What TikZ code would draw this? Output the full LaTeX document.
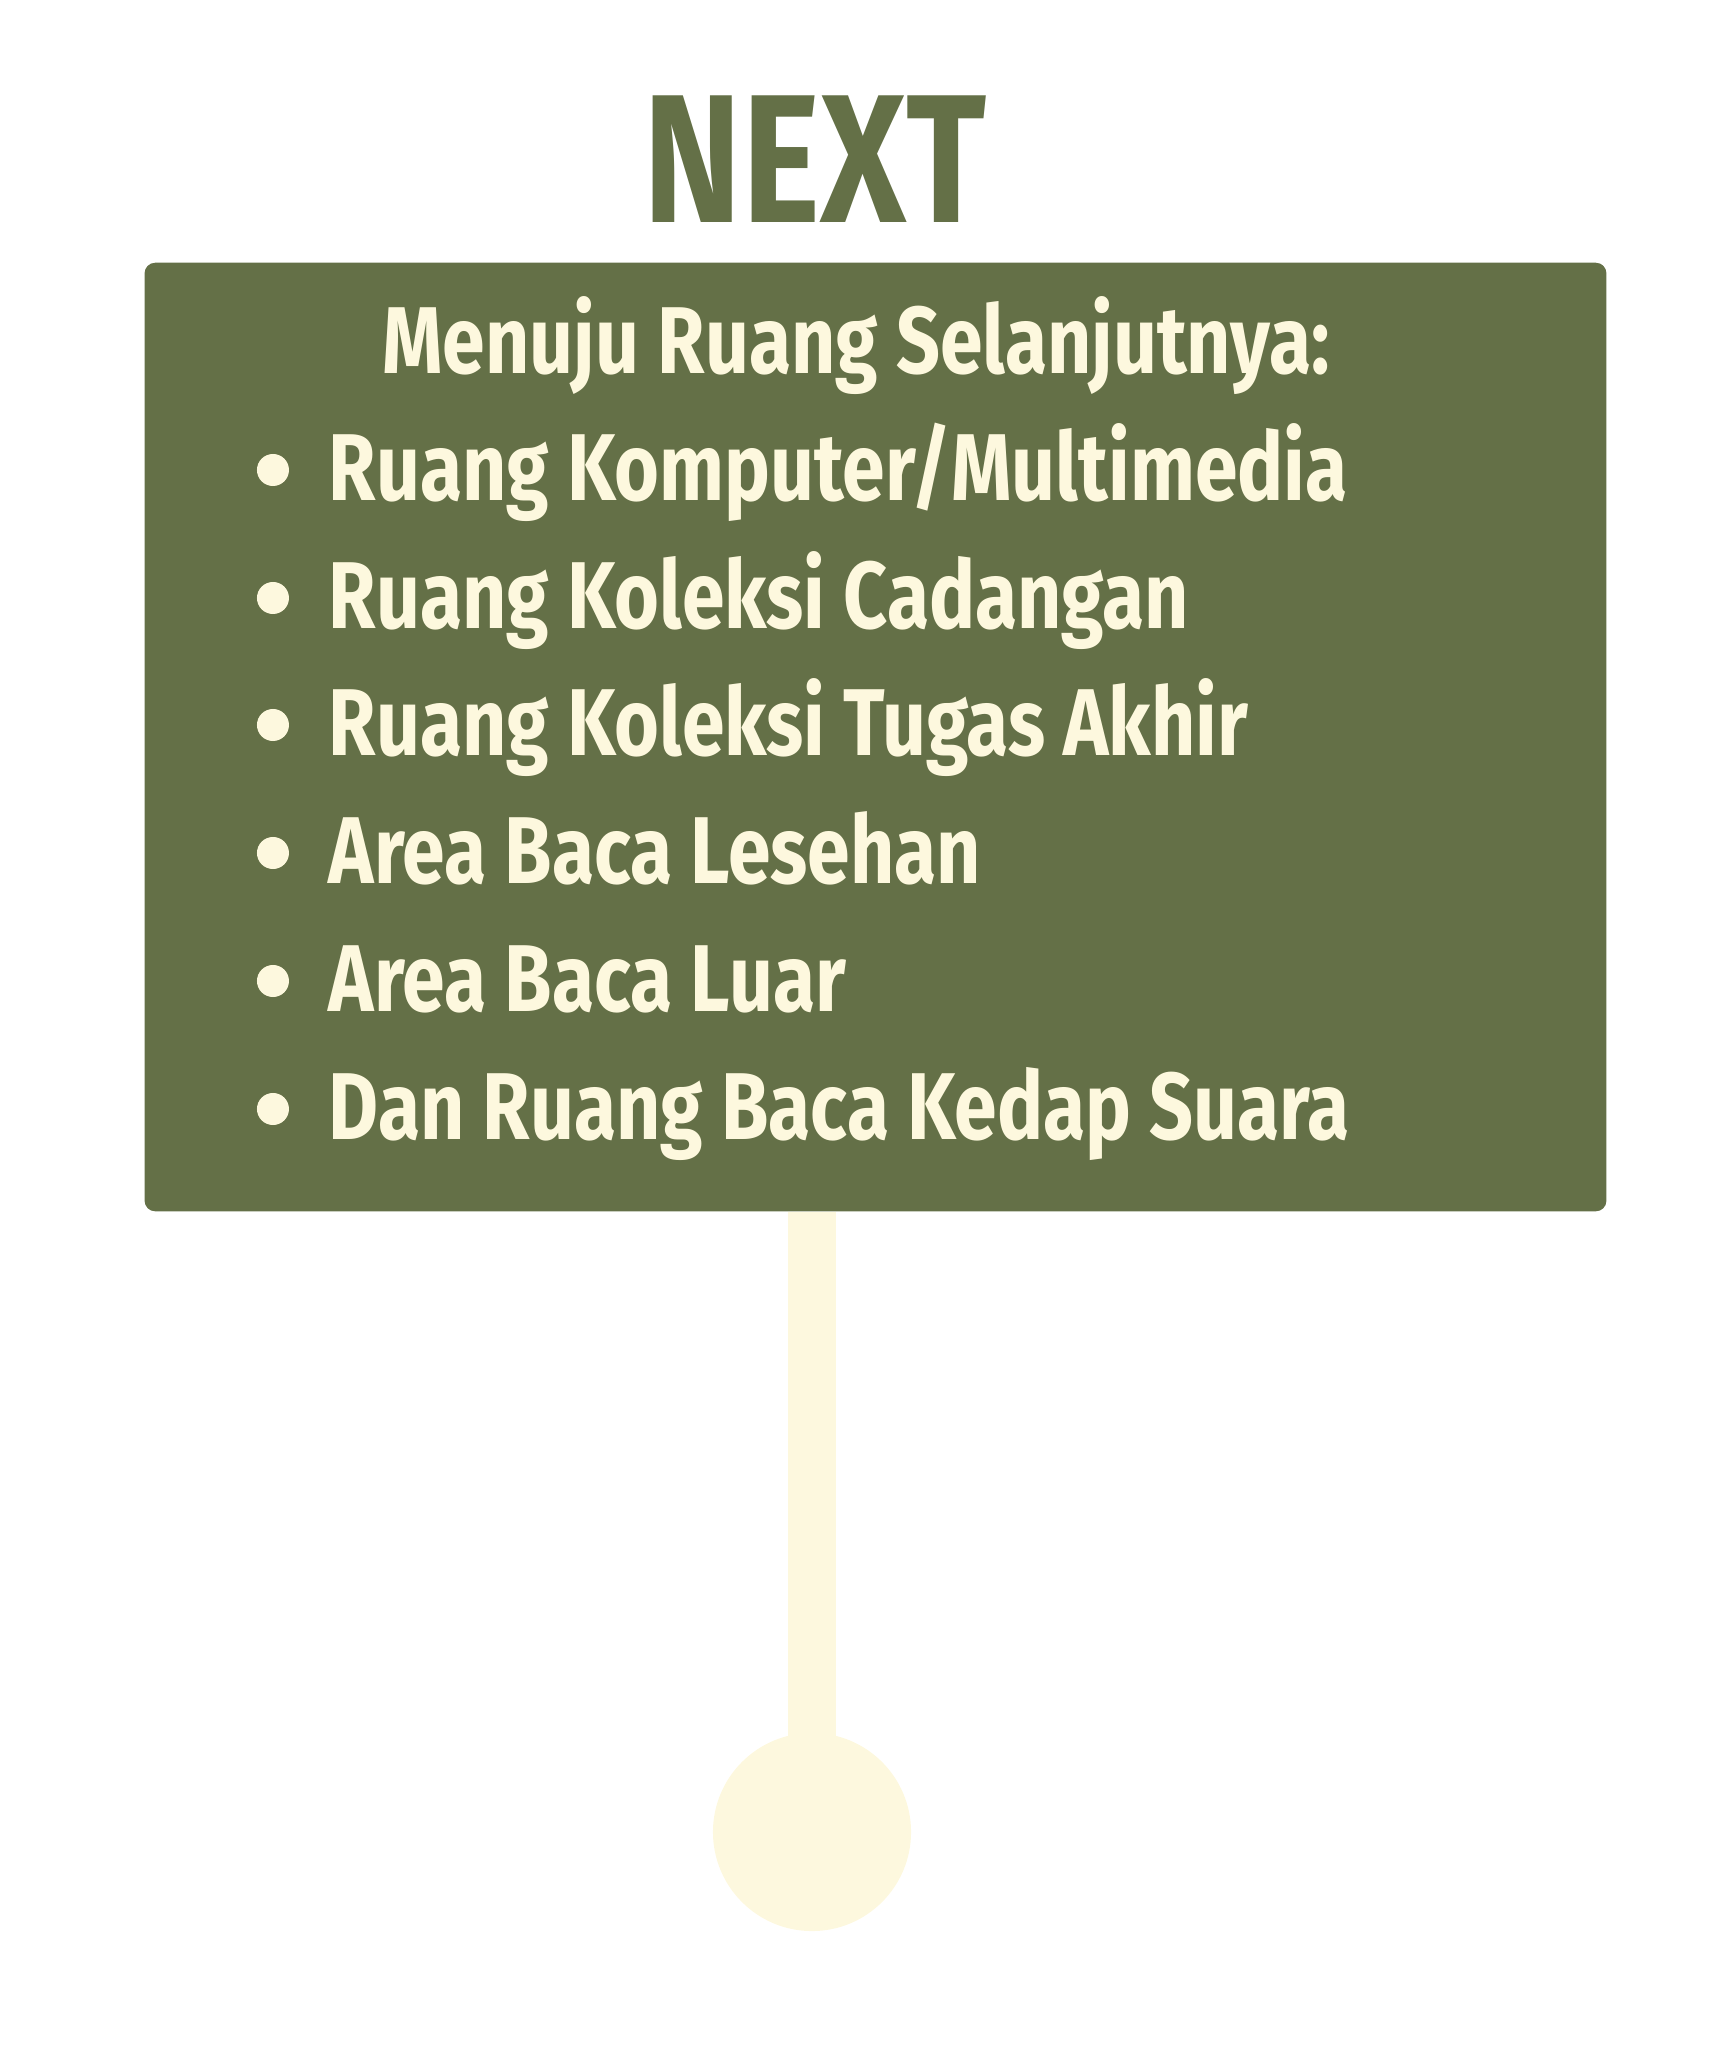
\documentclass[tikz,border=0pt]{standalone}
\usepackage{fontspec}
\setmainfont{Fira Sans}[FakeStretch=0.81]
\definecolor{sagegreen}{RGB}{100,112,71}
\definecolor{cream}{RGB}{253,248,222}
\tikzset{
  listitem/.style={anchor=base west, inner sep=0pt, text=cream,
    font=\fontsize{27}{30}\selectfont\bfseries},
  dot/.style={circle, fill=cream, inner sep=0pt, minimum size=0.32cm},
}

\begin{document}
\begin{tikzpicture}[x=0.01cm,y=-0.01cm]
\useasboundingbox (0,0) rectangle (1716,2048);

\node[anchor=base, inner sep=0pt, text=sagegreen,
  font=\fontsize{52}{60}\selectfont\bfseries] (next) at (815,222) {NEXT};

% knob and stem below the board
\node[circle, fill=cream, inner sep=0pt, minimum size=1.98cm] (knob) at (812,1832) {};
\node[fill=sagegreen, rounded corners=3pt, inner sep=0pt,
  minimum width=14.61cm, minimum height=9.48cm] (board) at (875.5,737) {};
\draw[cream, line width=0.48cm] (knob |- board.south) -- (knob.center);

\node[listitem, anchor=base] (title) at (856,373) {Menuju Ruang Selanjutnya:};
\node[listitem] (item1) at (328,500) {Ruang Komputer/Multimedia};
\node[listitem] (item2) at (328,628) {Ruang Koleksi Cadangan};
\node[listitem] (item3) at (328,755) {Ruang Koleksi Tugas Akhir};
\node[listitem] (item4) at (328,883) {Area Baca Lesehan};
\node[listitem] (item5) at (328,1011) {Area Baca Luar};
\node[listitem] (item6) at (328,1139) {Dan Ruang Baca Kedap Suara};

\foreach \i in {1,...,6}
  \node[dot] at ([xshift=-0.55cm, yshift=0.3cm]item\i.base west) {};
\end{tikzpicture}
\end{document}
